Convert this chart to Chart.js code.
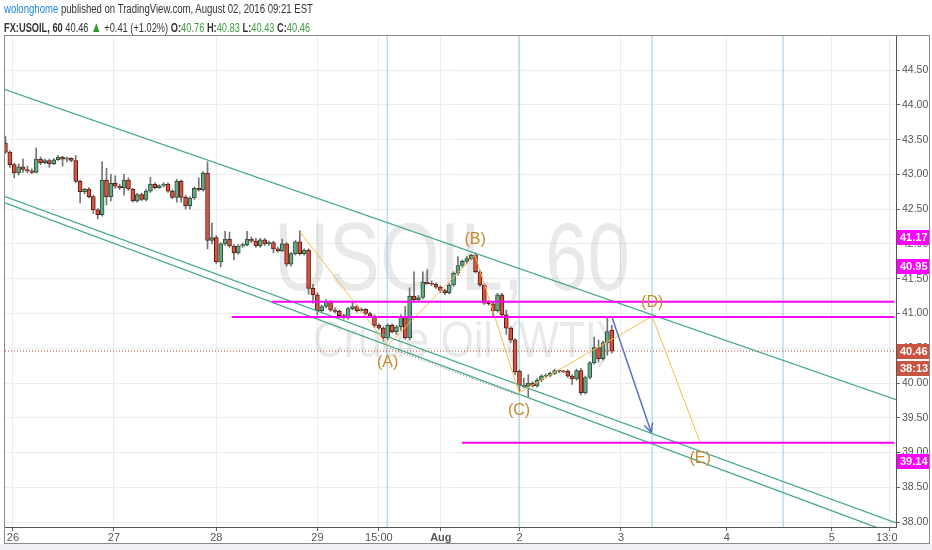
<!DOCTYPE html>
<html>
<head>
<meta charset="utf-8">
<script src="https://cdn.jsdelivr.net/npm/chart.js@4.4.0/dist/chart.umd.min.js"></script>
<style>
  html, body { margin: 0; padding: 0; background: #fff; }
  #wrap { position: relative; width: 932px; height: 550px; overflow: hidden; }
  canvas { position: absolute; left: 0; top: 0; }
  .hdr { position: absolute; left: 4px; font-family: 'Liberation Sans', Arial, sans-serif;
         font-size: 13.5px; color: #333; white-space: nowrap; z-index: 2; transform-origin: 0 0; }
  #hdr1 { top: 1px; }
  #hdr2 { top: 18px; font-size: 13px; }
  .g { color: #3e9e3e; }
  .t { color: #2e9a2e; font-size: 15px; }
  .u { color: #1e88d8; }
</style>
</head>
<body>
<div id="wrap">
  <canvas id="chart" width="932" height="550"></canvas>
  <div class="hdr" id="hdr1"><span class="u">wolonghome</span> published on TradingView.com, August 02, 2016 09:21 EST</div>
  <div class="hdr" id="hdr2"><b>FX:USOIL, 60</b> 40.46 <span class="t">&#9650;</span> +0.41 (+1.02%) <b>O:</b><span class="g">40.76</span> <b>H:</b><span class="g">40.83</span> <b>L:</b><span class="g">40.43</span> <b>C:</b><span class="g">40.46</span></div>
</div>
<script>
// hourly candles, index 0 = first visible bar
const opens = [43.45,43.32,43.14,43.02,43.11,43.07,43.05,43.03,43.22,43.17,43.20,43.15,43.21,43.25,43.22,43.23,43.20,42.90,42.75,42.79,
  42.68,42.49,42.42,42.92,42.68,42.87,42.83,42.81,42.92,42.79,42.62,42.71,42.64,42.76,42.86,42.81,42.84,42.86,42.76,42.67,
  42.90,42.67,42.55,42.66,42.80,42.78,43.02,42.05,42.09,41.74,42.00,42.07,41.97,41.87,41.97,41.99,42.07,42.04,41.97,42.06,
  42.00,42.02,41.93,41.90,42.00,41.71,41.86,42.03,41.86,41.91,41.36,41.27,41.04,41.10,41.17,41.05,41.03,40.97,40.94,41.07,
  41.10,41.04,41.06,41.00,40.96,40.83,40.79,40.65,40.83,40.74,40.81,40.96,40.65,41.25,41.20,41.23,41.45,41.43,41.42,41.38,
  41.33,41.30,41.41,41.58,41.69,41.75,41.79,41.84,41.60,41.41,41.17,41.14,41.04,41.27,40.98,40.79,40.62,40.17,39.97,39.95,
  40.00,39.96,40.04,40.10,40.11,40.14,40.18,40.17,40.17,40.10,40.06,40.18,39.86,40.08,40.29,40.51,40.35,40.58,40.76];
const highs = [43.55,43.34,43.16,43.15,43.22,43.12,43.08,43.38,43.25,43.22,43.22,43.23,43.27,43.26,43.25,43.24,43.27,42.92,42.80,42.81,
  42.70,42.51,43.18,43.09,43.00,42.98,42.86,43.00,42.95,42.80,42.73,42.73,42.78,42.96,42.88,42.85,42.88,42.88,42.78,42.93,
  42.92,42.70,42.68,42.82,42.95,43.04,43.18,42.30,42.12,42.02,42.18,42.17,41.99,41.99,42.01,42.18,42.10,42.08,42.08,42.08,
  42.04,42.04,41.95,42.07,42.02,41.88,42.05,42.19,41.93,41.93,41.42,41.30,41.12,41.20,41.19,41.08,41.05,40.99,41.09,41.16,
  41.12,41.08,41.07,41.02,40.98,40.85,40.81,40.85,40.85,40.83,40.98,41.10,41.37,41.60,41.26,41.60,41.63,41.47,41.44,41.40,
  41.35,41.43,41.60,41.82,41.77,41.82,41.85,41.87,41.62,41.43,41.19,41.16,41.29,41.29,41.05,40.81,40.64,40.19,40.07,40.12,
  40.02,40.06,40.12,40.13,40.16,40.20,40.19,40.18,40.19,40.12,40.20,40.21,40.10,40.31,40.66,40.62,40.60,40.95,40.83];
const lows = [43.30,43.10,42.95,42.99,43.03,43.02,43.01,43.02,43.14,43.15,43.10,43.14,43.20,43.12,43.18,43.18,42.88,42.59,42.72,42.66,
  42.44,42.36,42.40,42.56,42.62,42.80,42.78,42.70,42.77,42.60,42.60,42.62,42.62,42.74,42.79,42.80,42.82,42.74,42.65,42.60,
  42.60,42.50,42.50,42.64,42.76,42.76,41.93,42.00,41.72,41.67,41.98,41.95,41.77,41.85,41.95,41.97,42.02,41.95,41.95,41.98,
  41.98,41.87,41.88,41.89,41.68,41.68,41.84,41.84,41.84,41.28,41.15,40.98,41.02,41.08,41.03,41.01,40.95,40.92,40.92,41.05,
  41.02,41.02,40.98,40.94,40.80,40.77,40.60,40.62,40.72,40.70,40.76,40.63,40.62,41.18,41.17,41.21,41.42,41.40,41.36,41.30,
  41.27,41.28,41.39,41.55,41.66,41.72,41.77,41.58,41.39,41.13,41.12,40.95,41.02,40.96,40.70,40.58,40.12,39.88,39.93,39.80,
  39.94,39.94,40.02,40.07,40.09,40.12,40.15,40.15,40.08,39.98,40.04,39.83,39.84,40.06,40.27,40.30,40.33,40.40,40.43];
const closes = [43.32,43.14,43.02,43.11,43.07,43.05,43.03,43.22,43.17,43.20,43.15,43.21,43.25,43.22,43.23,43.20,42.90,42.75,42.79,42.68,
  42.49,42.42,42.92,42.68,42.87,42.83,42.81,42.92,42.79,42.62,42.71,42.64,42.76,42.86,42.81,42.84,42.86,42.76,42.67,42.90,
  42.67,42.55,42.66,42.80,42.78,43.02,42.05,42.09,41.74,42.00,42.07,41.97,41.87,41.97,41.99,42.07,42.04,41.97,42.06,42.00,
  42.02,41.93,41.90,42.00,41.71,41.86,42.03,41.86,41.91,41.36,41.27,41.04,41.10,41.17,41.05,41.03,40.97,40.94,41.07,41.10,
  41.04,41.06,41.00,40.96,40.83,40.79,40.65,40.83,40.74,40.81,40.96,40.65,41.25,41.20,41.23,41.45,41.43,41.42,41.38,41.33,
  41.30,41.41,41.58,41.69,41.75,41.79,41.84,41.60,41.41,41.15,41.14,41.04,41.27,40.98,40.79,40.62,40.16,39.97,39.95,40.00,
  39.96,40.04,40.10,40.11,40.14,40.18,40.17,40.16,40.10,40.06,40.18,39.86,40.08,40.29,40.51,40.35,40.58,40.74,40.46];

// time axis (bar index units)
const xTickPos = [1.7, 24.7, 48, 71, 85, 99.1, 117, 140.1, 164.2, 188.1, 201.3];
const xTickLabels = ['26', '27', '28', '29', '15:00', 'Aug', '2', '3', '4', '5', '13:00'];
const yTicks = [38.0, 38.5, 39.0, 39.5, 40.0, 40.5, 41.0, 41.5, 42.0, 42.5, 43.0, 43.5, 44.0, 44.5];

// drawings
const channelUpper = [{ x: -0.1, y: 44.22 }, { x: 202.7, y: 39.76 }];
const channelLowA = [{ x: -0.1, y: 42.68 }, { x: 202.7, y: 37.99 }];
const channelLowB = [{ x: -0.1, y: 42.59 }, { x: 202.7, y: 37.82 }];
const levelPrices = [41.17, 40.95, 39.14];
const levelStarts = [60.7, 51.6, 103.9];
const lastPrice = 40.46;
const timeLines = [86.9, 116.9, 147.2, 177.0];
const wavePoints = [{ x: 67.1, y: 42.17 }, { x: 87.0, y: 40.54 }, { x: 106.9, y: 41.84 },
  { x: 116.9, y: 39.86 }, { x: 147.2, y: 40.96 }, { x: 158.1, y: 39.15 }];
const waveLabels = ['(A)', '(B)', '(C)', '(D)', '(E)'];
const waveLabelPos = [{ x: 87.0, y: 40.29 }, { x: 106.9, y: 42.06 }, { x: 116.9, y: 39.60 },
  { x: 147.2, y: 41.15 }, { x: 158.1, y: 38.92 }];
const arrowPoints = [{ x: 138.1, y: 40.94 }, { x: 147.0, y: 39.29 }];
const dottedPoints = [{ x: 87.5, y: 40.50 }, { x: 116.5, y: 39.83 }];
const priceTags = [
  { text: '41.17', at: 42.10, color: '#ff00ff' },
  { text: '40.95', at: 41.68, color: '#ff00ff' },
  { text: '40.46', at: 40.46, color: '#c8543f' },
  { text: '38:13', at: 40.22, color: '#c8543f' },
  { text: '39.14', at: 38.88, color: '#ff00ff' },
];

const X_MIN = -0.1, X_MAX = 202.7, Y_MIN = 37.93, Y_MAX = 44.99;
const SANS = "'Liberation Sans', Arial, sans-serif";

// squeeze header lines to the width of the original narrow font
[['hdr1', 309], ['hdr2', 306]].forEach(([id, w]) => {
  const el = document.getElementById(id);
  el.style.transform = 'scaleX(' + (w / el.offsetWidth) + ')';
});

const up = opens.map((o, i) => closes[i] >= o);
const bodies = opens.map((o, i) => ({ x: i, y: [o, closes[i]] }));
const wicks = opens.map((o, i) => ({ x: i, y: [lows[i], highs[i]] }));

const lineDs = (data, color, width, order, extra) => Object.assign({
  type: 'line', data, borderColor: color, borderWidth: width, pointRadius: 0,
  fill: false, tension: 0, clip: 0, order
}, extra || {});

const datasets = [
  { type: 'bar', data: wicks, backgroundColor: '#737375', barThickness: 1, grouped: false, order: 20 },
  { type: 'bar', data: bodies, grouped: false, order: 19, barThickness: 4, minBarLength: 1,
    backgroundColor: up.map(u => u ? '#6ba583' : '#d75442'),
    borderColor: up.map(u => u ? '#225437' : '#5b1a13'), borderWidth: 1, borderSkipped: false },
  lineDs(channelUpper, '#45a88a', 1.3, 5),
  lineDs(channelLowA, '#45a88a', 1.3, 5),
  lineDs(channelLowB, '#45a88a', 1.3, 5),
  lineDs(dottedPoints, '#777', 1, 5, { borderDash: [1, 2] }),
  lineDs([{ x: X_MIN, y: lastPrice }, { x: X_MAX, y: lastPrice }], '#c0392b', 1, 6, { borderDash: [1, 2] }),
  lineDs(wavePoints, '#ffb74d', 1, 4),
  lineDs(arrowPoints, '#5c6fc4', 1.5, 3),
];
const ARROW_INDEX = 8;
levelPrices.forEach((p, i) => {
  datasets.push(lineDs([{ x: levelStarts[i], y: p }, { x: 202.3, y: p }], '#ff00ff', 2, 2));
});
timeLines.forEach(t => {
  datasets.push(lineDs([{ x: t, y: Y_MIN }, { x: t, y: Y_MAX }], 'rgba(140,205,225,0.8)', 1.2, 30));
});

function squeezedText(c, text, cx, baseline, font, width) {
  c.font = font;
  const w = c.measureText(text).width;
  c.save();
  c.translate(cx, baseline);
  c.scale(width / w, 1);
  c.textAlign = 'center';
  c.fillText(text, 0, 0);
  c.restore();
}

const overlay = {
  id: 'overlay',
  beforeDraw(chart) {
    const c = chart.ctx;
    c.save();
    c.fillStyle = '#eef0f3';
    c.fillRect(0, 544, 932, 6);
    c.restore();
  },
  beforeDatasetsDraw(chart) {
    const c = chart.ctx;
    c.save();
    c.fillStyle = 'rgba(110,110,110,0.15)';
    c.textBaseline = 'alphabetic';
    squeezedText(c, 'USOIL, 60', 452, 290, '96px ' + SANS, 356);
    squeezedText(c, 'Crude Oil (WTI)', 462, 357, '50px ' + SANS, 298);
    c.restore();
  },
  afterDatasetsDraw(chart) {
    const c = chart.ctx, xs = chart.scales.x, ys = chart.scales.y;
    c.save();
    // arrow head
    const pts = chart.getDatasetMeta(ARROW_INDEX).data;
    const p0 = pts[0], p1 = pts[1];
    const ang = Math.atan2(p1.y - p0.y, p1.x - p0.x);
    c.strokeStyle = '#5c6fc4';
    c.lineWidth = 1.5;
    c.beginPath();
    [-0.45, 0.45].forEach(d => {
      c.moveTo(p1.x, p1.y);
      c.lineTo(p1.x - 10 * Math.cos(ang + d), p1.y - 10 * Math.sin(ang + d));
    });
    c.stroke();
    // wave labels
    c.fillStyle = '#c8892c';
    c.font = '16px ' + SANS;
    c.textAlign = 'center';
    c.textBaseline = 'middle';
    waveLabels.forEach((t, i) => {
      c.fillText(t, xs.getPixelForValue(waveLabelPos[i].x), ys.getPixelForValue(waveLabelPos[i].y));
    });
    c.restore();
  },
  afterDraw(chart) {
    const c = chart.ctx, a = chart.chartArea, ys = chart.scales.y;
    c.save();
    // clip the last time label at the price scale
    c.fillStyle = '#fff';
    c.fillRect(a.right + 1, a.bottom + 1, 40, 16);
    priceTags.forEach(t => {
      const y = Math.round(ys.getPixelForValue(t.at));
      c.fillStyle = t.color;
      c.fillRect(a.right + 1, y - 7, 32, 15);
      c.fillStyle = '#fff';
      c.font = 'bold 11px ' + SANS;
      c.textAlign = 'left';
      c.textBaseline = 'middle';
      c.fillText(t.text, a.right + 4, y + 0.5);
    });
    c.strokeStyle = '#8a8a8a';
    c.lineWidth = 1;
    c.strokeRect(4.5, 35.5, 925, 508);
    c.restore();
  }
};

new Chart(document.getElementById('chart'), {
  type: 'bar',
  data: { datasets },
  plugins: [overlay],
  options: {
    responsive: false,
    animation: false,
    devicePixelRatio: 1,
    layout: { padding: { top: 36, left: 5, right: 3, bottom: 7 } },
    plugins: { legend: { display: false }, tooltip: { enabled: false } },
    scales: {
      x: {
        type: 'linear', min: X_MIN, max: X_MAX, offset: false,
        afterFit: s => { s.height = 16; },
        afterBuildTicks: s => { s.ticks = xTickPos.map(v => ({ value: v })); },
        grid: { offset: false, color: '#ececec', tickColor: '#666', tickLength: 4 },
        border: { display: true, color: '#555' },
        ticks: {
          autoSkip: false, maxRotation: 0, padding: 0, color: '#555',
          font: ctx => ({ family: SANS, size: 11, weight: xTickLabels[ctx.index] === 'Aug' ? 'bold' : 'normal' }),
          callback: (v, i) => xTickLabels[i]
        }
      },
      y: {
        type: 'linear', position: 'right', min: Y_MIN, max: Y_MAX,
        afterFit: s => { s.width = 33; },
        afterBuildTicks: s => { s.ticks = yTicks.map(v => ({ value: v })); },
        grid: { color: '#ececec', tickColor: '#666', tickLength: 4 },
        border: { display: true, color: '#555' },
        ticks: { padding: 2, color: '#555', font: { family: SANS, size: 10.5 }, callback: v => v.toFixed(2) }
      }
    }
  }
});
</script>
</body>
</html>
